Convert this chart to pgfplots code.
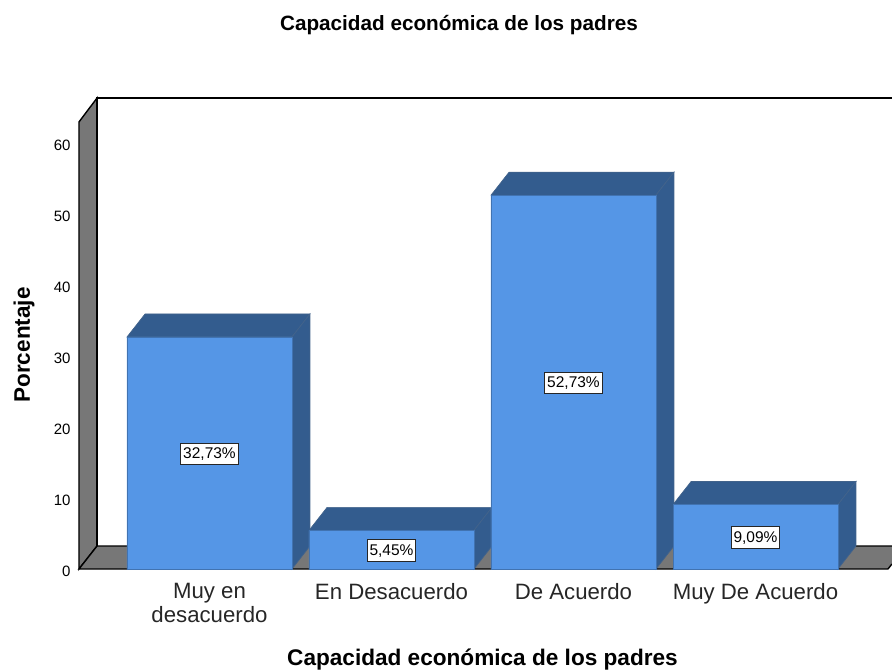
\documentclass[border=0pt]{standalone}
\usepackage{fontspec}
\setmainfont{Liberation Sans}
\usepackage{pgfplots}
\pgfplotsset{compat=1.18}
\definecolor{barfront}{HTML}{5596E6}
\definecolor{bardark}{HTML}{335C8E}
\definecolor{wallgrey}{HTML}{777777}
\begin{document}
\begin{tikzpicture}
\path[use as bounding box] (-79pt,-101pt) rectangle (813pt,569pt);
\begin{axis}[
  scale only axis,
  width=813pt,
  height=471pt,
  xmin=-0.717, xmax=3.75,
  ymin=0, ymax=66.43,
  clip=false,
  axis line style={draw=none},
  tick style={draw=none},
  xtick={0,1,2,3},
  xticklabels={{Muy en\\desacuerdo},{En Desacuerdo},{De Acuerdo},{Muy De Acuerdo}},
  xticklabel style={align=center,font=\fontsize{22.2}{24}\selectfont,text=black!85,yshift=-10.5pt},
  ytick={0,10,20,30,40,50,60},
  yticklabel style={font=\fontsize{15}{18}\selectfont,xshift=-5pt,yshift=-2pt,/pgf/number format/assume math mode=true},
  title={Capacidad económica de los padres},
  title style={at={(axis description cs:0.4674,1.142)},anchor=center,font=\fontsize{20.7}{24}\selectfont\bfseries},
  xlabel={Capacidad económica de los padres},
  xlabel style={at={(axis description cs:0.4963,-0.1925)},anchor=center,font=\fontsize{22.6}{26}\selectfont\bfseries},
  ylabel={Porcentaje},
  ylabel style={at={(axis description cs:-0.0676,0.4756)},anchor=center,font=\fontsize{22.5}{26}\selectfont\bfseries},
]
% left wall and floor
\addplot[fill=wallgrey,draw=black,line width=1.4pt] coordinates {(-0.717,0) (-0.717,63.05) (-0.618,66.43) (-0.618,3.24)} -- cycle;
\addplot[fill=wallgrey,draw=none] coordinates {(-0.717,0) (-0.618,3.24) (3.75,3.24) (3.75,0.71) (3.728,0)} -- cycle;
\addplot[black,line width=1.4pt] coordinates {(3.75,3.24) (-0.618,3.24) (-0.717,0) (3.728,0) (3.75,0.71)};
\addplot[black,line width=1.4pt] coordinates {(-0.618,3.24) (-0.618,66.43) (3.75,66.43)};
% bar tops
\addplot[fill=bardark,draw=bardark!80!gray,line width=0.7pt] coordinates {(-0.453,32.73) (0.453,32.73) (0.552,35.97) (-0.354,35.97)} -- cycle;
\addplot[fill=bardark,draw=bardark!80!gray,line width=0.7pt] coordinates {(0.547,5.45) (1.453,5.45) (1.552,8.69) (0.646,8.69)} -- cycle;
\addplot[fill=bardark,draw=bardark!80!gray,line width=0.7pt] coordinates {(1.547,52.73) (2.453,52.73) (2.552,55.97) (1.646,55.97)} -- cycle;
\addplot[fill=bardark,draw=bardark!80!gray,line width=0.7pt] coordinates {(2.547,9.09) (3.453,9.09) (3.552,12.33) (2.646,12.33)} -- cycle;
% bar sides
\addplot[fill=bardark,draw=bardark!80!gray,line width=0.7pt] coordinates {(0.453,0) (0.552,3.24) (0.552,35.97) (0.453,32.73)} -- cycle;
\addplot[fill=bardark,draw=bardark!80!gray,line width=0.7pt] coordinates {(1.453,0) (1.552,3.24) (1.552,8.69) (1.453,5.45)} -- cycle;
\addplot[fill=bardark,draw=bardark!80!gray,line width=0.7pt] coordinates {(2.453,0) (2.552,3.24) (2.552,55.97) (2.453,52.73)} -- cycle;
\addplot[fill=bardark,draw=bardark!80!gray,line width=0.7pt] coordinates {(3.453,0) (3.552,3.24) (3.552,12.33) (3.453,9.09)} -- cycle;
% bar fronts
\addplot[ybar,bar width=165pt,bar shift=0pt,fill=barfront,draw=bardark!60!barfront,line width=0.7pt]
  coordinates {(0,32.73) (1,5.45) (2,52.73) (3,9.09)};
% value labels at bar mid height
\addplot[only marks,mark=none,point meta=explicit symbolic,nodes near coords,
  nodes near coords style={anchor=center,yshift=-1pt,fill=white,draw=black!85,line width=1pt,inner xsep=2.5pt,inner ysep=4.5pt,
    font=\fontsize{15.5}{18}\selectfont,text=black}]
  coordinates {(0,16.365) [32,73\%] (1,2.725) [5,45\%] (2,26.365) [52,73\%] (3,4.545) [9,09\%]};
\end{axis}
\end{tikzpicture}
\end{document}
